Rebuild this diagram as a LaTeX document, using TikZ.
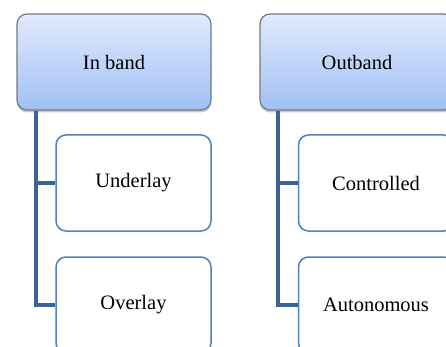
\documentclass[tikz,border=0pt]{standalone}
\usepackage{fontspec}
\setmainfont{Liberation Serif}
\usetikzlibrary{calc,shadows}

\definecolor{headtop}{RGB}{226,234,252}
\definecolor{headbot}{RGB}{160,192,246}
\definecolor{headedge}{RGB}{112,122,138}
\definecolor{leafedge}{RGB}{79,129,189}
\definecolor{spinecol}{RGB}{60,99,150}

\tikzset{
  headbox/.style={draw=headedge, line width=1.2pt, rounded corners=10pt,
    top color=headtop, bottom color=headbot,
    minimum width=194pt, minimum height=96pt, inner sep=0pt,
    drop shadow={shadow xshift=0pt, shadow yshift=-2.5pt, opacity=0.35, fill=black!60}},
  leafbox/.style={draw=leafedge, line width=1.5pt, rounded corners=10pt, fill=white,
    minimum width=155pt, minimum height=96pt, inner sep=0pt},
  link/.style={draw=spinecol, line width=4pt}
}

\begin{document}
\begin{tikzpicture}[x=1pt,y=-1pt,font=\fontsize{20.5}{24}\selectfont]
\useasboundingbox (0,0) rectangle (446,347);
\clip (0,0) rectangle (446,347);
\fill[white] (0,0) rectangle (446,347);

% left column
\node[headbox] (pL) at (114,62) {In band};
\node[leafbox] (cU) at (133.5,183) {Underlay};
\node[leafbox] (cO) at (133.5,305) {Overlay};
\coordinate (sL) at ($(pL.south west)+(20,0)$);
\draw[link] (sL) |- (cO.west);
\draw[link] (sL |- cU.west) -- (cU.west);

% right column
\node[headbox] (pR) at (357,62) {Outband};
\node[leafbox] (cC) at (376,183) {Controlled};
\node[leafbox] (cA) at (376,305) {Autonomous};
\coordinate (sR) at ($(pR.south west)+(18.5,0)$);
\draw[link] (sR) |- (cA.west);
\draw[link] (sR |- cC.west) -- (cC.west);
\end{tikzpicture}
\end{document}
